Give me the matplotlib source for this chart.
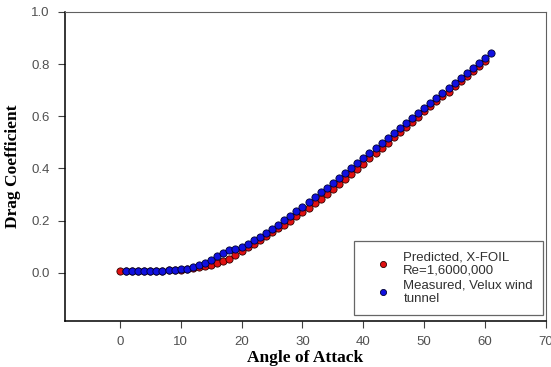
import matplotlib
matplotlib.use("Agg")
import matplotlib.pyplot as plt

# Predicted, X-FOIL (red)
pred_angle = list(range(0, 61))
pred_cd = [0.005, 0.005, 0.006, 0.006, 0.007, 0.007, 0.008, 0.008, 0.009, 0.010,
           0.012, 0.014, 0.017, 0.021, 0.025, 0.030, 0.036, 0.044, 0.054, 0.068,
           0.082, 0.097, 0.111, 0.125, 0.140, 0.155, 0.170, 0.185, 0.200, 0.216,
           0.232, 0.249, 0.266, 0.284, 0.302, 0.321, 0.340, 0.359, 0.379, 0.399,
           0.419, 0.439, 0.459, 0.479, 0.499, 0.519, 0.539, 0.559, 0.579, 0.599,
           0.619, 0.638, 0.657, 0.676, 0.695, 0.715, 0.735, 0.754, 0.773, 0.793,
           0.812]

# Measured, Velux wind tunnel (blue)
meas_angle = list(range(1, 62))
meas_cd = [0.005, 0.005, 0.005, 0.006, 0.006, 0.007, 0.008, 0.009, 0.011, 0.013,
           0.016, 0.021, 0.028, 0.038, 0.050, 0.064, 0.077, 0.086, 0.091, 0.097,
           0.110, 0.124, 0.139, 0.154, 0.169, 0.185, 0.202, 0.219, 0.236, 0.254,
           0.272, 0.290, 0.308, 0.326, 0.344, 0.363, 0.382, 0.401, 0.420, 0.440,
           0.460, 0.480, 0.499, 0.518, 0.537, 0.556, 0.575, 0.594, 0.614, 0.633,
           0.652, 0.671, 0.690, 0.709, 0.728, 0.747, 0.766, 0.785, 0.805, 0.824,
           0.843]

xticks = [0, 10, 20, 30, 40, 50, 60, 70]
yticks = [0.0, 0.2, 0.4, 0.6, 0.8, 1.0]
pred_label = "Predicted, X-FOIL\nRe=1,6000,000"
meas_label = "Measured, Velux wind\ntunnel"

fig = plt.figure(figsize=(5.51, 3.67), dpi=100)
ax = fig.add_axes([65/551, 46/367, 481/551, 309/367])

ax.plot(pred_angle, pred_cd, linestyle="none", marker="o", markersize=5.2,
        markerfacecolor="#e01010", markeredgecolor="#300000", markeredgewidth=0.6,
        label=pred_label)
ax.plot(meas_angle, meas_cd, linestyle="none", marker="o", markersize=5.2,
        markerfacecolor="#1010e0", markeredgecolor="#000030", markeredgewidth=0.6,
        label=meas_label)

ax.set_xlim(-9, 70)
ax.set_ylim(-0.185, 1.0)
ax.set_xticks(xticks)
ax.set_yticks(yticks)
ax.set_xticklabels([str(t) for t in xticks])
ax.set_yticklabels([f"{t:.1f}" for t in yticks])

for s in ["top", "right"]:
    ax.spines[s].set_color("#606060")
    ax.spines[s].set_linewidth(0.8)
for s in ["left", "bottom"]:
    ax.spines[s].set_color("black")
    ax.spines[s].set_linewidth(1.1)

ax.tick_params(direction="out", length=5, width=0.8, color="#404040",
               labelcolor="#505050", labelsize=9.5, pad=6)
for lab in ax.get_xticklabels() + ax.get_yticklabels():
    lab.set_family("Liberation Sans")

ax.set_xlabel("Angle of Attack", family="Liberation Serif", fontweight="bold",
              fontsize=12.5, labelpad=1)
ax.set_ylabel("Drag Coefficient", family="Liberation Serif", fontweight="bold",
              fontsize=12.5, labelpad=7)

leg = ax.legend(loc="lower right", bbox_to_anchor=(0.999, 0.012),
                prop={"family": "Liberation Sans", "size": 9.5},
                frameon=True, fancybox=False, edgecolor="#404040",
                handlelength=2.9, markerscale=0.85, borderpad=0.75,
                labelspacing=0.25, handletextpad=0.1, borderaxespad=0.2)
leg.get_frame().set_linewidth(0.9)
for t in leg.get_texts():
    t.set_color("#303030")
    t.set_linespacing(1.12)

fig.savefig("out.png", dpi=100)
